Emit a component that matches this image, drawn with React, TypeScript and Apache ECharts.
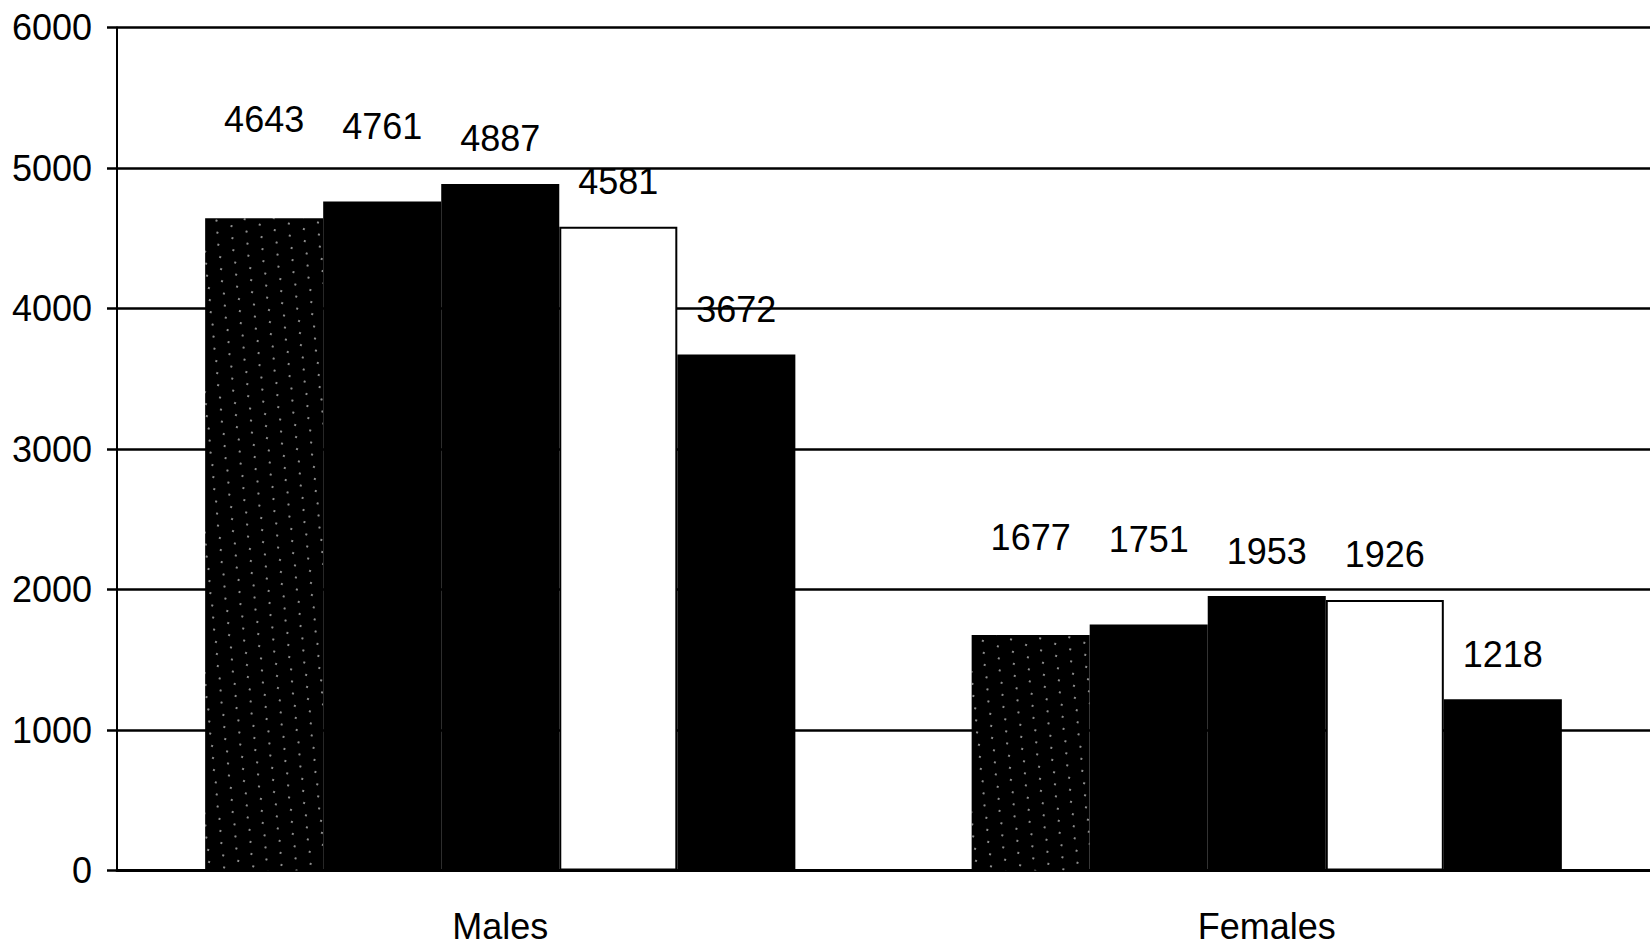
import React, { useEffect, useRef } from "react";
import * as echarts from "echarts";

const categories = ["Males", "Females"];
const seriesNames = ["Series 1", "Series 2", "Series 3", "Series 4", "Series 5"];
const series1 = [4643, 1677];
const series2 = [4761, 1751];
const series3 = [4887, 1953];
const series4 = [4581, 1926];
const series5 = [3672, 1218];
const yTicks = [0, 1000, 2000, 3000, 4000, 5000, 6000];

// extra lift of value labels above their bars (styling)
const labelLift = [
  [54, 52],
  [30, 40],
  [0, 0],
  [0, 0],
  [0, 0],
];

const FONT = "'Liberation Sans', Arial, sans-serif";
const FS = 36;

export default function App() {
  const ref = useRef<HTMLDivElement>(null);
  useEffect(() => {
    if (!ref.current) return;
    const chart = echarts.init(ref.current, null, { renderer: "svg" });
    const all = [series1, series2, series3, series4, series5];
    const styles = [
      {
        color: "#000",
        decal: {
          symbol: "rect",
          symbolSize: 1,
          color: "rgba(255,255,255,0.55)",
          dashArrayX: [[1.2, 14], [0, 6, 1.2, 8], [0, 11, 1.2, 3]],
          dashArrayY: [1.2, 9],
          rotation: 0.35,
        },
      },
      { color: "#000" },
      { color: "#000" },
      { color: "#fff", borderColor: "#000", borderWidth: 2 },
      { color: "#000" },
    ];
    chart.setOption({
      animation: false,
      backgroundColor: "#fff",
      grid: { left: 117, top: 27.5, width: 1536, height: 843 },
      xAxis: {
        type: "category",
        data: categories,
        axisLine: { lineStyle: { color: "#000", width: 3 } },
        axisTick: { show: false },
        axisLabel: { color: "#000", fontSize: FS, fontFamily: FONT, margin: 38 },
      },
      yAxis: {
        type: "value",
        min: 0,
        max: 6000,
        interval: 1000,
        axisLine: { show: true, lineStyle: { color: "#000", width: 2 } },
        axisTick: { show: true, length: 10, lineStyle: { color: "#000", width: 2.5 } },
        axisLabel: {
          color: "#000",
          fontSize: FS,
          fontFamily: FONT,
          margin: 25,
          formatter: (v: number) => (yTicks.includes(v) ? String(v) : ""),
        },
        splitLine: { show: true, lineStyle: { color: "#000", width: 2.5 } },
      },
      series: all.map((vals, si) => ({
        type: "bar",
        name: seriesNames[si],
        barGap: "0%",
        barCategoryGap: "23%",
        itemStyle: styles[si],
        data: vals.map((v, ci) => ({
          value: v,
          label: {
            show: true,
            position: "top",
            distance: 27,
            offset: [0, -labelLift[si][ci]],
            color: "#000",
            fontSize: FS,
            fontFamily: FONT,
          },
        })),
      })),
    });
    return () => chart.dispose();
  }, []);
  return (
    <div
      ref={ref}
      style={{ position: "absolute", left: 0, top: 0, width: 1650, height: 948, background: "#fff" }}
    />
  );
}
